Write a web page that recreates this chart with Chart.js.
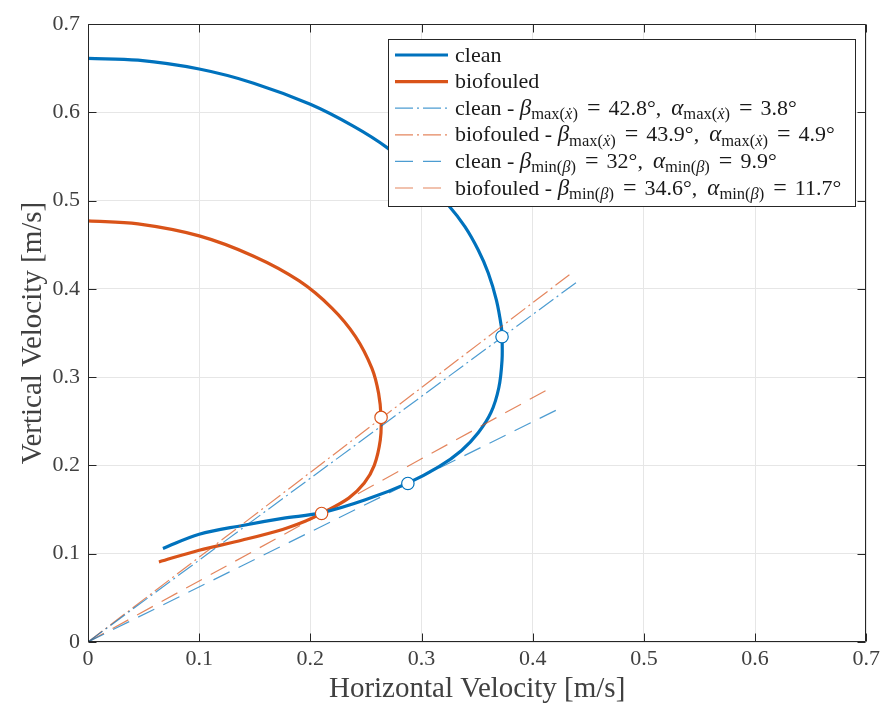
<!DOCTYPE html>
<html><head><meta charset="utf-8">
<script src="https://cdn.jsdelivr.net/npm/chart.js@4.4.1/dist/chart.umd.min.js"></script>
<style>html,body{margin:0;padding:0;background:#fff;} #wrap{width:884px;height:704px;}</style>
</head><body><div id="wrap"><canvas id="c" width="884" height="704"></canvas></div>
<script>
// ---- data ----
const cleanX = [0.000, 0.045, 0.100, 0.149, 0.200, 0.239, 0.269, 0.298, 0.324, 0.339, 0.351, 0.360, 0.3674, 0.3718, 0.3724, 0.3724, 0.3695, 0.3625, 0.351, 0.336, 0.315, 0.2877, 0.2495, 0.2107, 0.175, 0.139, 0.100, 0.0674];
const cleanY = [0.661, 0.659, 0.649, 0.633, 0.609, 0.584, 0.560, 0.530, 0.495, 0.4705, 0.444, 0.418, 0.387, 0.357, 0.346, 0.319, 0.288, 0.260, 0.237, 0.217, 0.198, 0.180, 0.161, 0.1465, 0.140, 0.132, 0.122, 0.106];
const biofouledX = [0.000, 0.045, 0.100, 0.149, 0.190, 0.2196, 0.2406, 0.2554, 0.2614, 0.2636, 0.2629, 0.2575, 0.2485, 0.2345, 0.2101, 0.1958, 0.175, 0.139, 0.100, 0.0638];
const biofouledY = [0.477, 0.4736, 0.460, 0.437, 0.409, 0.378, 0.346, 0.310, 0.2816, 0.2544, 0.2287, 0.200, 0.180, 0.163, 0.1456, 0.137, 0.1275, 0.1155, 0.104, 0.0907];
const markCleanX = [0.3724, 0.2877];
const markCleanY = [0.3458, 0.1796];
const markBioX = [0.2636, 0.2101];
const markBioY = [0.2544, 0.1456];
// fit lines from origin: clean max, biofouled max, clean min, biofouled min
const fitEndX = [0.440, 0.433, 0.425, 0.412];
const fitEndY = [0.408, 0.416, 0.265, 0.285];
const betaDeg = [42.8, 43.9, 32, 34.6];
const alphaDeg = [3.8, 4.9, 9.9, 11.7];
const seriesNames = ['clean', 'biofouled'];
const tickValues = [0, 0.1, 0.2, 0.3, 0.4, 0.5, 0.6, 0.7];
const tickLabels = ['0', '0.1', '0.2', '0.3', '0.4', '0.5', '0.6', '0.7'];

// ---- styling ----
const BLUE = '#0072BD', RED = '#D95319';
const BLUE_L = 'rgba(0,114,189,0.7)', RED_L = 'rgba(217,83,25,0.7)';
const DASHDOT = [18, 4, 2, 4], DASHED = [18, 10];
const FONT = '"Liberation Serif", "Times New Roman", serif';
const AX = '#262626';

const pts = (xs, ys) => xs.map((x, i) => ({x: x, y: ys[i]}));
const fitColors = [BLUE_L, RED_L, BLUE_L, RED_L];
const fitDash = [DASHDOT, DASHDOT, DASHED, DASHED];

const datasets = [
  {label: 'markers clean', data: pts(markCleanX, markCleanY), showLine: false, pointRadius: 6.2, pointBackgroundColor: '#fff', pointBorderColor: BLUE, pointBorderWidth: 1.2, order: 0},
  {label: 'markers biofouled', data: pts(markBioX, markBioY), showLine: false, pointRadius: 6.2, pointBackgroundColor: '#fff', pointBorderColor: RED, pointBorderWidth: 1.2, order: 0},
];
for (let k = 0; k < 4; k++) {
  datasets.push({label: 'fit' + k, data: [{x: 0, y: 0}, {x: fitEndX[k], y: fitEndY[k]}], showLine: true, pointRadius: 0, borderColor: fitColors[k], borderWidth: 1.2, borderDash: fitDash[k], order: 1});
}
datasets.push({label: seriesNames[0], data: pts(cleanX, cleanY), showLine: true, pointRadius: 0, borderColor: BLUE, borderWidth: 3.2, tension: 0.35, order: 2});
datasets.push({label: seriesNames[1], data: pts(biofouledX, biofouledY), showLine: true, pointRadius: 0, borderColor: RED, borderWidth: 3.2, tension: 0.35, order: 3});

const boxPlugin = {
  id: 'box',
  afterDatasetsDraw(chart) {
    const {ctx, chartArea: a, scales: {x, y}} = chart;
    ctx.save();
    ctx.strokeStyle = AX; ctx.lineWidth = 1;
    const L = Math.round(a.left) + 0.5, R = Math.round(a.right) - 0.5, T = Math.round(a.top) + 0.5, B = Math.round(a.bottom) - 0.5;
    ctx.beginPath();
    ctx.rect(L, T, R - L, B - T);
    const tl = 8;
    tickValues.forEach(v => {
      const px = Math.round(x.getPixelForValue(v)) + 0.5;
      ctx.moveTo(px, B); ctx.lineTo(px, B - tl);
      ctx.moveTo(px, T); ctx.lineTo(px, T + tl);
      const py = Math.round(y.getPixelForValue(v)) + 0.5;
      ctx.moveTo(L, py); ctx.lineTo(L + tl, py);
      ctx.moveTo(R, py); ctx.lineTo(R - tl, py);
    });
    ctx.stroke();
    ctx.restore();
  }
};

const legendPlugin = {
  id: 'richLegend',
  afterDraw(chart) {
    const ctx = chart.ctx;
    const bx = 388.5, by = 39.5, bw = 467, bh = 167;
    const rowY0 = 55, rowH = 26.6, lx0 = 395, lx1 = 448, tx = 455;
    ctx.save();
    ctx.fillStyle = '#fff';
    ctx.fillRect(bx, by, bw, bh);
    ctx.strokeStyle = AX; ctx.lineWidth = 1;
    ctx.strokeRect(bx, by, bw, bh);
    const rows = [];
    rows.push({color: BLUE, w: 3.2, dash: [], segs: [{t: seriesNames[0], s: 'n'}]});
    rows.push({color: RED, w: 3.2, dash: [], segs: [{t: seriesNames[1], s: 'n'}]});
    for (let k = 0; k < 4; k++) {
      const sub = k < 2 ? [{t: 'max(', s: 'sub'}, {t: 'ẋ', s: 'subi'}, {t: ')', s: 'sub'}]
                        : [{t: 'min(', s: 'sub'}, {t: 'β', s: 'subi'}, {t: ')', s: 'sub'}];
      rows.push({color: fitColors[k], w: 1.2, dash: fitDash[k], segs: [
        {t: seriesNames[k % 2] + ' - ', s: 'n'}, {t: 'β', s: 'i'}, ...sub,
        {gap: 9}, {t: '=', s: 'eq'}, {gap: 8},
        {t: betaDeg[k] + '°,', s: 'n'}, {gap: 10},
        {t: 'α', s: 'i'}, ...sub,
        {gap: 9}, {t: '=', s: 'eq'}, {gap: 8},
        {t: alphaDeg[k] + '°', s: 'n'}
      ]});
    }
    const fonts = {
      n: '22px ' + FONT, i: 'italic 23px ' + FONT, eq: '24px ' + FONT,
      sub: '16.5px ' + FONT, subi: 'italic 16.5px ' + FONT
    };
    rows.forEach((r, idx) => {
      const cy = rowY0 + idx * rowH;
      ctx.beginPath();
      ctx.strokeStyle = r.color; ctx.lineWidth = r.w; ctx.setLineDash(r.dash);
      ctx.moveTo(lx0, cy); ctx.lineTo(lx1, cy); ctx.stroke();
      ctx.setLineDash([]);
      let x = tx;
      const base = cy + 6.5;
      ctx.fillStyle = '#1a1a1a';
      ctx.textBaseline = 'alphabetic'; ctx.textAlign = 'left';
      r.segs.forEach(sg => {
        if (sg.gap) { x += sg.gap; return; }
        ctx.font = fonts[sg.s];
        const yy = (sg.s === 'sub' || sg.s === 'subi') ? base + 4.5 : base;
        ctx.fillText(sg.t, x, yy);
        x += ctx.measureText(sg.t).width;
      });
    });
    ctx.restore();
  }
};

const setTicks = s => { s.ticks = tickValues.map(v => ({value: v})); };

new Chart(document.getElementById('c'), {
  type: 'scatter',
  data: {datasets: datasets},
  options: {
    responsive: false,
    devicePixelRatio: 1,
    animation: false,
    layout: {padding: {top: 24, right: 14, left: 0, bottom: 0}},
    plugins: {legend: {display: false}, tooltip: {enabled: false}},
    scales: {
      x: {
        type: 'linear', min: 0, max: 0.7,
        afterBuildTicks: setTicks,
        afterFit: s => { s.height = 62; },
        grid: {color: '#e6e6e6', lineWidth: 1, drawTicks: false},
        border: {display: false},
        ticks: {padding: 4, color: '#404040', font: {family: FONT, size: 22}, maxRotation: 0, autoSkip: false,
                callback: (v) => tickLabels[Math.round(v * 10)]},
        title: {display: true, text: 'Horizontal Velocity [m/s]', color: '#404040', font: {family: FONT, size: 29, lineHeight: 1}, padding: {top: 0, bottom: 0}}
      },
      y: {
        type: 'linear', min: 0, max: 0.7,
        afterBuildTicks: setTicks,
        afterFit: s => { s.width = 88; },
        grid: {color: '#e6e6e6', lineWidth: 1, drawTicks: false},
        border: {display: false},
        ticks: {padding: 8, color: '#404040', font: {family: FONT, size: 22}, autoSkip: false,
                callback: (v) => tickLabels[Math.round(v * 10)]},
        title: {display: true, text: 'Vertical Velocity [m/s]', color: '#404040', font: {family: FONT, size: 29, lineHeight: 1}, padding: {top: 19, bottom: 0}}
      }
    }
  },
  plugins: [boxPlugin, legendPlugin]
});
</script>
</body></html>
